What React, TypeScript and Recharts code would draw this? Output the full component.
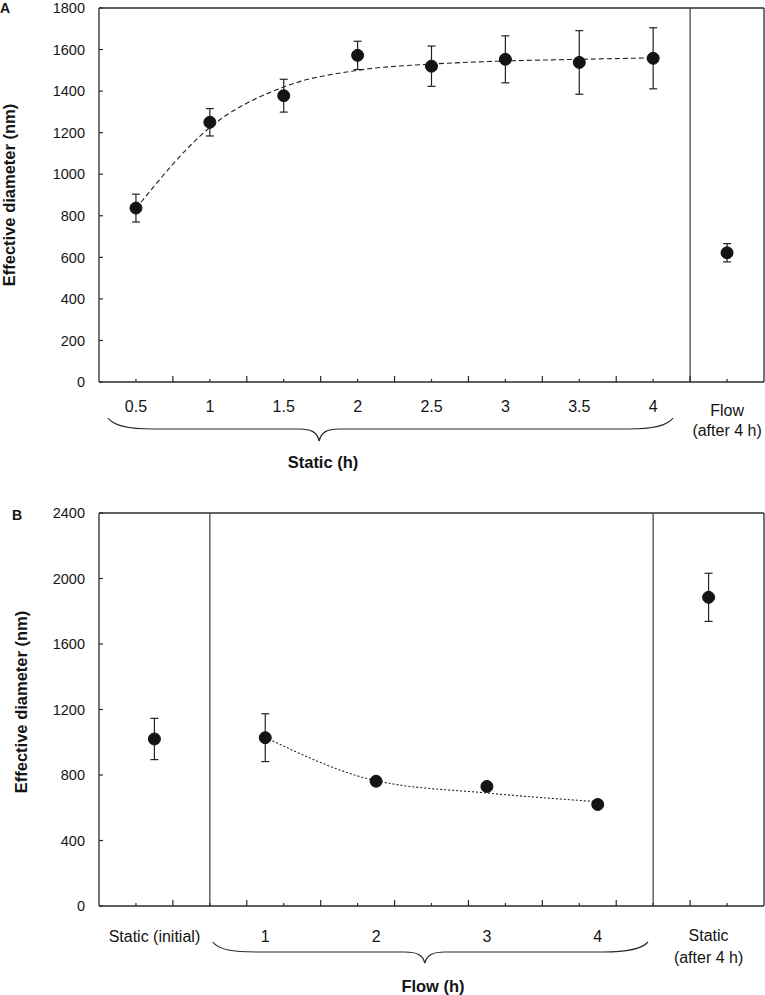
import React from 'react';
import { ComposedChart, Line, XAxis, YAxis, ErrorBar, ReferenceLine } from 'recharts';

const FONT = '"Liberation Sans", Arial, Helvetica, sans-serif';
const AXIS = '#2a2a2a';
const SEP = '#555555';
const INK = '#141414';

// panel A: static incubation, then one reading under flow
const staticLabels = ['0.5', '1', '1.5', '2', '2.5', '3', '3.5', '4', 'Flow\n(after 4 h)'];
const staticMeans = [837, 1250, 1378, 1572, 1520, 1553, 1538, 1558, 622];
const staticErrors = [67, 66, 79, 68, 97, 113, 153, 147, 44];
const staticFit = [835, 1225, 1420, 1500, 1530, 1545, 1553, 1560, null];
const staticYTicks = [0, 200, 400, 600, 800, 1000, 1200, 1400, 1600, 1800];

// panel B: initial static, flow hours, static afterwards
const flowLabels = ['Static (initial)', '1', '2', '3', '4', 'Static\n(after 4 h)'];
const flowMeans = [1020, 1028, 762, 730, 620, 1885];
const flowErrors = [126, 146, 15, 15, 15, 147];
const flowFit = [null, 1030, 765, 690, 637, null];
const flowYTicks = [0, 400, 800, 1200, 1600, 2000, 2400];

// tick marks along the bottom axis (same in both panels)
const markTicks = [0.5, 1, 1.5, 2, 2.5, 3, 3.5, 4, 4.5, 5, 5.5, 6, 6.5, 7, 7.5, 8, 8.5];

const W = 765;
const PLOT_LEFT = 99;
const PLOT_RIGHT = 764;
const X_MAX = 9;
const sx = (v: number) => PLOT_LEFT + (v / X_MAX) * (PLOT_RIGHT - PLOT_LEFT);

type Row = { x: number; label: string; mean: number; err: number; fit: number | null };

const buildRows = (labels: string[], means: number[], errors: number[], fit: (number | null)[], slot: number): Row[] =>
  labels.map((label, i) => ({ x: (i + 0.5) * slot, label, mean: means[i], err: errors[i], fit: fit[i] }));

const YTick = ({ x, y, payload }: any) => (
  <g>
    <line x1={x + 14} x2={x + 18} y1={y} y2={y} stroke={AXIS} strokeWidth={1.2} />
    <text x={x} y={y} dy="0.36em" textAnchor="end" fontSize={14.5} fontFamily={FONT} fill={INK}>
      {payload.value}
    </text>
  </g>
);

const AxisTick = ({ x, y, payload, rows, dy, multiDy, lineGap }: any) => {
  const v = payload.value;
  const row = rows.find((r: Row) => Math.abs(r.x - v) < 1e-6);
  const isMark = markTicks.includes(v);
  const major = Number.isInteger(v);
  const lines = row ? row.label.split('\n') : [];
  return (
    <g>
      {isMark && <line x1={x} x2={x} y1={y} y2={y - (major ? 6 : 3)} stroke={AXIS} strokeWidth={1.2} />}
      {row && (
        <text x={x} y={y + (lines.length > 1 ? multiDy : dy)} textAnchor="middle" fontSize={16} fontFamily={FONT} fill={INK}>
          {lines.map((l: string, i: number) => (
            <tspan key={i} x={x} dy={i === 0 ? 0 : lineGap}>{l}</tspan>
          ))}
        </text>
      )}
    </g>
  );
};

type PanelProps = {
  rows: Row[];
  yMax: number;
  yTicks: number[];
  separators: number[];
  fitDash: string;
  height: number;
  top: number;
  bottom: number;
  dy: number;
  multiDy: number;
  lineGap: number;
};

const Panel = ({ rows, yMax, yTicks, separators, fitDash, height, top, bottom, dy, multiDy, lineGap }: PanelProps) => {
  const tickSet = Array.from(new Set([...markTicks, ...rows.map((r) => r.x)])).sort((a, b) => a - b);
  return (
    <ComposedChart width={W} height={height} data={rows} margin={{ top, right: W - PLOT_RIGHT, bottom: 0, left: 0 }}>
      <XAxis
        type="number"
        dataKey="x"
        domain={[0, X_MAX]}
        ticks={tickSet}
        interval={0}
        height={bottom}
        tickSize={0}
        tickMargin={0}
        tickLine={false}
        axisLine={{ stroke: AXIS, strokeWidth: 1.3 }}
        tick={<AxisTick rows={rows} dy={dy} multiDy={multiDy} lineGap={lineGap} />}
      />
      <YAxis
        type="number"
        domain={[0, yMax]}
        ticks={yTicks}
        interval={0}
        width={PLOT_LEFT}
        tickSize={0}
        tickMargin={14}
        tickLine={false}
        axisLine={{ stroke: AXIS, strokeWidth: 1.3 }}
        tick={<YTick />}
      />
      <ReferenceLine y={yMax} stroke={AXIS} strokeWidth={1.3} />
      <ReferenceLine x={X_MAX} stroke={AXIS} strokeWidth={1.3} />
      {separators.map((s) => (
        <ReferenceLine key={s} x={s} stroke={SEP} strokeWidth={1.4} />
      ))}
      <Line
        dataKey="fit"
        type="monotone"
        stroke="#222"
        strokeWidth={1.1}
        strokeDasharray={fitDash}
        dot={false}
        activeDot={false}
        isAnimationActive={false}
      />
      <Line
        dataKey="mean"
        stroke="none"
        dot={{ r: 6, fill: INK, stroke: INK, strokeWidth: 1 }}
        activeDot={false}
        isAnimationActive={false}
      >
        <ErrorBar dataKey="err" direction="y" width={4} stroke="#222" strokeWidth={1.2} />
      </Line>
    </ComposedChart>
  );
};

const bracePath = (x0: number, x1: number, xm: number, y0: number, ym: number, yt: number) =>
  `M${x0},${y0} C${x0 + 6},${y0 + 8} ${x0 + 20},${ym} ${x0 + 45},${ym} ` +
  `L${xm - 20},${ym} C${xm - 8},${ym} ${xm - 2},${ym + 3} ${xm},${yt} ` +
  `C${xm + 2},${ym + 3} ${xm + 8},${ym} ${xm + 20},${ym} ` +
  `L${x1 - 45},${ym} C${x1 - 20},${ym} ${x1 - 6},${ym - 3} ${x1},${y0}`;

export default function App() {
  const rowsA = buildRows(staticLabels, staticMeans, staticErrors, staticFit, 1);
  const rowsB = buildRows(flowLabels, flowMeans, flowErrors, flowFit, 1.5);
  return (
    <div style={{ position: 'absolute', left: 0, top: 0, width: W, height: 995, background: '#fff', fontFamily: FONT }}>
      <div style={{ position: 'absolute', left: 0, top: 0 }}>
        <Panel
          rows={rowsA}
          yMax={1800}
          yTicks={staticYTicks}
          separators={[8]}
          fitDash="5 3"
          height={470}
          top={8}
          bottom={88}
          dy={30}
          multiDy={34}
          lineGap={20}
        />
      </div>
      <div style={{ position: 'absolute', left: 0, top: 500 }}>
        <Panel
          rows={rowsB}
          yMax={2400}
          yTicks={flowYTicks}
          separators={[1.5, 7.5]}
          fitDash="2 2"
          height={495}
          top={13}
          bottom={89}
          dy={36}
          multiDy={35}
          lineGap={22}
        />
      </div>
      <svg width={W} height={995} style={{ position: 'absolute', left: 0, top: 0, pointerEvents: 'none' }}>
        <text x={0} y={13} fontSize={14} fontWeight="bold" fontFamily={FONT} fill={INK}>A</text>
        <text x={12} y={520} fontSize={14} fontWeight="bold" fontFamily={FONT} fill={INK}>B</text>
        <text
          transform="rotate(-90, 9, 195)"
          x={9}
          y={195}
          dy="0.36em"
          textAnchor="middle"
          fontSize={16.5}
          fontWeight="bold"
          fontFamily={FONT}
          fill={INK}
        >
          Effective diameter (nm)
        </text>
        <text
          transform="rotate(-90, 21, 702)"
          x={21}
          y={702}
          dy="0.36em"
          textAnchor="middle"
          fontSize={16.5}
          fontWeight="bold"
          fontFamily={FONT}
          fill={INK}
        >
          Effective diameter (nm)
        </text>
        <path d={bracePath(sx(0.12), sx(7.77), sx(2.98), 418, 429, 441)} fill="none" stroke={AXIS} strokeWidth={1.2} />
        <path d={bracePath(sx(1.54), sx(7.43), sx(4.41), 942, 952, 963)} fill="none" stroke={AXIS} strokeWidth={1.2} />
        <text x={323} y={468} textAnchor="middle" fontSize={16.5} fontWeight="bold" fontFamily={FONT} fill={INK}>
          Static (h)
        </text>
        <text x={433} y={992} textAnchor="middle" fontSize={16.5} fontWeight="bold" fontFamily={FONT} fill={INK}>
          Flow (h)
        </text>
      </svg>
    </div>
  );
}
